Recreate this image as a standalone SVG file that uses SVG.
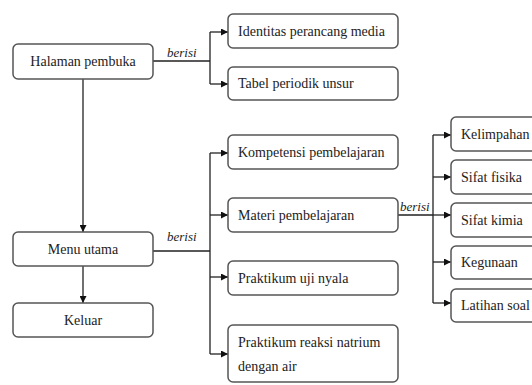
<svg xmlns="http://www.w3.org/2000/svg" width="532" height="385" viewBox="0 0 532 385">
<defs>
<marker id="ah" viewBox="0 0 10 10" refX="10" refY="5" markerWidth="7" markerHeight="7" markerUnits="userSpaceOnUse" orient="auto">
<path d="M0,0 L10,5 L0,10 z" fill="#111"/>
</marker>
<style>
.box{fill:#fff;stroke:#555;stroke-width:1.5}
.t{font-family:'Liberation Serif','DejaVu Serif','Times New Roman',serif;font-size:14px;fill:#222}
.c{text-anchor:middle}
.lbl{font-family:'Liberation Serif','DejaVu Serif',serif;font-size:13px;font-style:italic;fill:#222}
.ln{fill:none;stroke:#222;stroke-width:1.3}
</style>
</defs>
<rect width="532" height="385" fill="#fff"/>
<g id="connectors">
<path class="ln" d="M153,61 H210 M210,32 V84"/>
<path class="ln" d="M210,32 H228" marker-end="url(#ah)"/>
<path class="ln" d="M210,84 H228" marker-end="url(#ah)"/>
<path class="ln" d="M83,79 V232" marker-end="url(#ah)"/>
<path class="ln" d="M83,266 V303" marker-end="url(#ah)"/>
<path class="ln" d="M153,251 H210 M210,153 V354"/>
<path class="ln" d="M210,153 H228" marker-end="url(#ah)"/>
<path class="ln" d="M210,215 H228" marker-end="url(#ah)"/>
<path class="ln" d="M210,277 H228" marker-end="url(#ah)"/>
<path class="ln" d="M210,354 H228" marker-end="url(#ah)"/>
<path class="ln" d="M398,215 H433 M433,135 V303"/>
<path class="ln" d="M433,135 H451" marker-end="url(#ah)"/>
<path class="ln" d="M433,177 H451" marker-end="url(#ah)"/>
<path class="ln" d="M433,215 H451" marker-end="url(#ah)"/>
<path class="ln" d="M433,262 H451" marker-end="url(#ah)"/>
<path class="ln" d="M433,303 H451" marker-end="url(#ah)"/>
<text class="lbl" x="167" y="57">berisi</text>
<text class="lbl" x="167" y="241">berisi</text>
<text class="lbl" x="400" y="211">berisi</text>
</g>
<g id="halaman"><rect class="box" x="13" y="44" width="140" height="35" rx="5"/><text class="t c" x="83" y="66">Halaman pembuka</text></g>
<g id="identitas"><rect class="box" x="228" y="14" width="170" height="34" rx="5"/><text class="t" x="238" y="36">Identitas perancang media</text></g>
<g id="tabel"><rect class="box" x="228" y="67" width="170" height="33" rx="5"/><text class="t" x="238" y="88">Tabel periodik unsur</text></g>
<g id="menu"><rect class="box" x="13" y="232" width="140" height="34" rx="5"/><text class="t c" x="83" y="254">Menu utama</text></g>
<g id="keluar"><rect class="box" x="13" y="303" width="140" height="34" rx="5"/><text class="t c" x="83" y="325">Keluar</text></g>
<g id="kompetensi"><rect class="box" x="228" y="135" width="170" height="34" rx="5"/><text class="t" x="238" y="157">Kompetensi pembelajaran</text></g>
<g id="materi"><rect class="box" x="228" y="198" width="170" height="34" rx="5"/><text class="t" x="238" y="220">Materi pembelajaran</text></g>
<g id="praktikum1"><rect class="box" x="228" y="261" width="170" height="34" rx="5"/><text class="t" x="238" y="283">Praktikum uji nyala</text></g>
<g id="praktikum2"><rect class="box" x="228" y="325" width="170" height="57" rx="5"/><text class="t" x="238" y="347">Praktikum reaksi natrium</text><text class="t" x="238" y="371">dengan air</text></g>
<g id="kelimpahan"><rect class="box" x="451" y="117" width="100" height="34" rx="5"/><text class="t" x="461" y="139">Kelimpahan</text></g>
<g id="fisika"><rect class="box" x="451" y="160" width="100" height="34" rx="5"/><text class="t" x="461" y="182">Sifat fisika</text></g>
<g id="kimia"><rect class="box" x="451" y="203" width="100" height="34" rx="5"/><text class="t" x="461" y="225">Sifat kimia</text></g>
<g id="kegunaan"><rect class="box" x="451" y="246" width="100" height="33" rx="5"/><text class="t" x="461" y="267">Kegunaan</text></g>
<g id="latihan"><rect class="box" x="451" y="289" width="100" height="33" rx="5"/><text class="t" x="461" y="310">Latihan soal</text></g>
</svg>
